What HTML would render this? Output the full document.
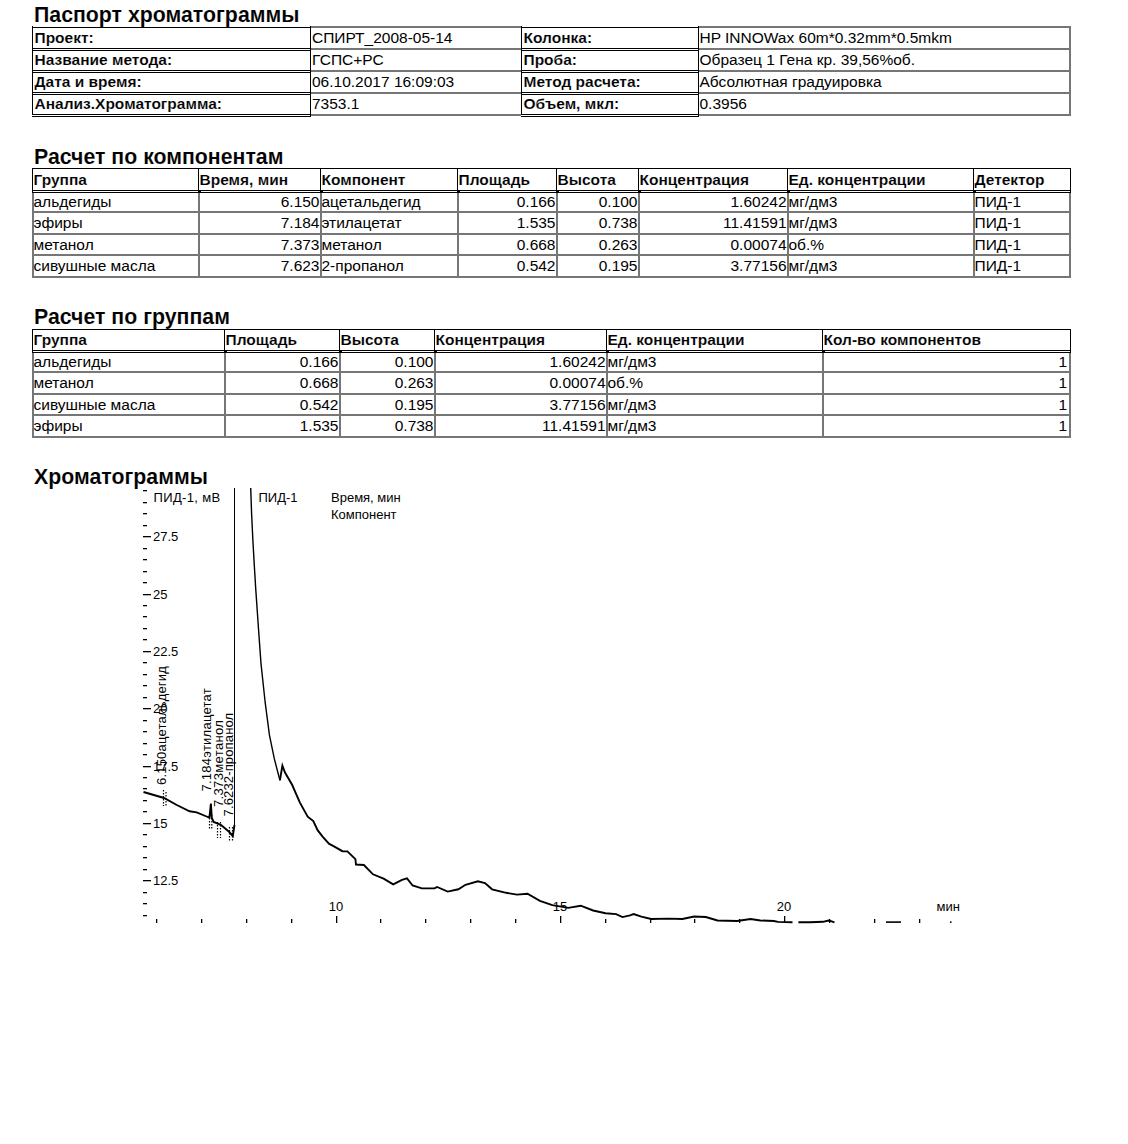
<!DOCTYPE html>
<html><head><meta charset="utf-8"><style>
html,body{margin:0;padding:0;background:#fff;}
body{width:1128px;height:1144px;position:relative;overflow:hidden;font-family:"Liberation Sans", sans-serif;color:#000;}
div{position:absolute;}
.t{position:absolute;white-space:nowrap;line-height:20px;height:20px;}
svg{position:absolute;left:0;top:0;}
svg text{font-family:"Liberation Sans", sans-serif;fill:#000;}
</style></head><body>
<span class="t" style="left:34px;top:4.62px;font-size:21.3px;font-weight:bold;-webkit-text-stroke:0.10px #fff;">Паспорт хроматограммы</span><span class="t" style="left:34px;top:146.62px;font-size:21.3px;font-weight:bold;-webkit-text-stroke:0.10px #fff;">Расчет по компонентам</span><span class="t" style="left:34px;top:306.62px;font-size:21.3px;font-weight:bold;-webkit-text-stroke:0.10px #fff;">Расчет по группам</span><span class="t" style="left:34px;top:466.62px;font-size:21.3px;font-weight:bold;-webkit-text-stroke:0.10px #fff;">Хроматограммы</span><div style="left:32px;top:27px;width:279px;height:1px;background:#000"></div><div style="left:32px;top:48px;width:279px;height:1px;background:#000"></div><div style="left:32px;top:50px;width:279px;height:1px;background:#000"></div><div style="left:32px;top:70px;width:279px;height:1px;background:#000"></div><div style="left:32px;top:72px;width:279px;height:1px;background:#000"></div><div style="left:32px;top:92px;width:279px;height:1px;background:#000"></div><div style="left:32px;top:94px;width:279px;height:1px;background:#000"></div><div style="left:32px;top:114px;width:279px;height:1px;background:#000"></div><div style="left:32px;top:116px;width:279px;height:1px;background:#000"></div><div style="left:32px;top:26px;width:1px;height:89px;background:#000"></div><div style="left:310px;top:26px;width:1px;height:91px;background:#000"></div><div style="left:521px;top:27px;width:178px;height:1px;background:#000"></div><div style="left:521px;top:48px;width:178px;height:1px;background:#000"></div><div style="left:521px;top:50px;width:178px;height:1px;background:#000"></div><div style="left:521px;top:70px;width:178px;height:1px;background:#000"></div><div style="left:521px;top:72px;width:178px;height:1px;background:#000"></div><div style="left:521px;top:92px;width:178px;height:1px;background:#000"></div><div style="left:521px;top:94px;width:178px;height:1px;background:#000"></div><div style="left:521px;top:114px;width:178px;height:1px;background:#000"></div><div style="left:521px;top:116px;width:178px;height:1px;background:#000"></div><div style="left:521px;top:26px;width:1px;height:89px;background:#000"></div><div style="left:698px;top:26px;width:1px;height:91px;background:#000"></div><div style="left:311px;top:26px;width:210px;height:2px;background:#767676"></div><div style="left:311px;top:48px;width:210px;height:2px;background:#767676"></div><div style="left:311px;top:70px;width:210px;height:2px;background:#767676"></div><div style="left:311px;top:92px;width:210px;height:2px;background:#767676"></div><div style="left:311px;top:114px;width:210px;height:2px;background:#767676"></div><div style="left:699px;top:26px;width:372px;height:2px;background:#767676"></div><div style="left:699px;top:48px;width:372px;height:2px;background:#767676"></div><div style="left:699px;top:70px;width:372px;height:2px;background:#767676"></div><div style="left:699px;top:92px;width:372px;height:2px;background:#767676"></div><div style="left:699px;top:114px;width:372px;height:2px;background:#767676"></div><div style="left:1069px;top:26px;width:2px;height:90px;background:#767676"></div><span class="t" style="left:34.5px;top:27.63px;font-size:15.5px;font-weight:bold;-webkit-text-stroke:0.12px #fff;">Проект:</span><span class="t" style="left:312px;top:27.63px;font-size:15.5px;font-weight:normal;">СПИРТ_2008-05-14</span><span class="t" style="left:523.5px;top:27.63px;font-size:15.5px;font-weight:bold;-webkit-text-stroke:0.12px #fff;">Колонка:</span><span class="t" style="left:699.5px;top:27.63px;font-size:15.5px;font-weight:normal;">HP INNOWax 60m*0.32mm*0.5mkm</span><span class="t" style="left:34.5px;top:49.63px;font-size:15.5px;font-weight:bold;-webkit-text-stroke:0.12px #fff;">Название метода:</span><span class="t" style="left:312px;top:49.63px;font-size:15.5px;font-weight:normal;">ГСПС+РС</span><span class="t" style="left:523.5px;top:49.63px;font-size:15.5px;font-weight:bold;-webkit-text-stroke:0.12px #fff;">Проба:</span><span class="t" style="left:699.5px;top:49.63px;font-size:15.5px;font-weight:normal;">Образец 1 Гена кр. 39,56%об.</span><span class="t" style="left:34.5px;top:71.63px;font-size:15.5px;font-weight:bold;-webkit-text-stroke:0.12px #fff;">Дата и время:</span><span class="t" style="left:312px;top:71.63px;font-size:15.5px;font-weight:normal;">06.10.2017 16:09:03</span><span class="t" style="left:523.5px;top:71.63px;font-size:15.5px;font-weight:bold;-webkit-text-stroke:0.12px #fff;">Метод расчета:</span><span class="t" style="left:699.5px;top:71.63px;font-size:15.5px;font-weight:normal;">Абсолютная градуировка</span><span class="t" style="left:34.5px;top:93.63px;font-size:15.5px;font-weight:bold;-webkit-text-stroke:0.12px #fff;">Анализ.Хроматограмма:</span><span class="t" style="left:312px;top:93.63px;font-size:15.5px;font-weight:normal;">7353.1</span><span class="t" style="left:523.5px;top:93.63px;font-size:15.5px;font-weight:bold;-webkit-text-stroke:0.12px #fff;">Объем, мкл:</span><span class="t" style="left:699.5px;top:93.63px;font-size:15.5px;font-weight:normal;">0.3956</span><div style="left:32px;top:168px;width:1039px;height:1px;background:#000"></div><div style="left:32px;top:190px;width:1039px;height:1px;background:#000"></div><div style="left:32px;top:192px;width:1039px;height:1px;background:#000"></div><div style="left:32px;top:168px;width:1px;height:25px;background:#000"></div><div style="left:198px;top:168px;width:1px;height:25px;background:#000"></div><div style="left:198px;top:190px;width:3px;height:3px;background:#000"></div><div style="left:320px;top:168px;width:1px;height:25px;background:#000"></div><div style="left:320px;top:190px;width:3px;height:3px;background:#000"></div><div style="left:457px;top:168px;width:1px;height:25px;background:#000"></div><div style="left:457px;top:190px;width:3px;height:3px;background:#000"></div><div style="left:556px;top:168px;width:1px;height:25px;background:#000"></div><div style="left:556px;top:190px;width:3px;height:3px;background:#000"></div><div style="left:638px;top:168px;width:1px;height:25px;background:#000"></div><div style="left:638px;top:190px;width:3px;height:3px;background:#000"></div><div style="left:787px;top:168px;width:1px;height:25px;background:#000"></div><div style="left:787px;top:190px;width:3px;height:3px;background:#000"></div><div style="left:973px;top:168px;width:1px;height:25px;background:#000"></div><div style="left:973px;top:190px;width:3px;height:3px;background:#000"></div><div style="left:1070px;top:168px;width:1px;height:25px;background:#000"></div><div style="left:32px;top:211px;width:1039px;height:2px;background:#767676"></div><div style="left:32px;top:233px;width:1039px;height:2px;background:#767676"></div><div style="left:32px;top:254px;width:1039px;height:2px;background:#767676"></div><div style="left:32px;top:276px;width:1039px;height:2px;background:#767676"></div><div style="left:32px;top:193px;width:2px;height:85px;background:#767676"></div><div style="left:198px;top:193px;width:2px;height:85px;background:#767676"></div><div style="left:320px;top:193px;width:2px;height:85px;background:#767676"></div><div style="left:457px;top:193px;width:2px;height:85px;background:#767676"></div><div style="left:556px;top:193px;width:2px;height:85px;background:#767676"></div><div style="left:638px;top:193px;width:2px;height:85px;background:#767676"></div><div style="left:787px;top:193px;width:2px;height:85px;background:#767676"></div><div style="left:973px;top:193px;width:2px;height:85px;background:#767676"></div><div style="left:1069px;top:193px;width:2px;height:85px;background:#767676"></div><span class="t" style="left:33.5px;top:169.63px;font-size:15.5px;font-weight:bold;-webkit-text-stroke:0.12px #fff;">Группа</span><span class="t" style="left:199.5px;top:169.63px;font-size:15.5px;font-weight:bold;-webkit-text-stroke:0.12px #fff;">Время, мин</span><span class="t" style="left:321.5px;top:169.63px;font-size:15.5px;font-weight:bold;-webkit-text-stroke:0.12px #fff;">Компонент</span><span class="t" style="left:458.5px;top:169.63px;font-size:15.5px;font-weight:bold;-webkit-text-stroke:0.12px #fff;">Площадь</span><span class="t" style="left:557.5px;top:169.63px;font-size:15.5px;font-weight:bold;-webkit-text-stroke:0.12px #fff;">Высота</span><span class="t" style="left:639.5px;top:169.63px;font-size:15.5px;font-weight:bold;-webkit-text-stroke:0.12px #fff;">Концентрация</span><span class="t" style="left:788.5px;top:169.63px;font-size:15.5px;font-weight:bold;-webkit-text-stroke:0.12px #fff;">Ед. концентрации</span><span class="t" style="left:974.5px;top:169.63px;font-size:15.5px;font-weight:bold;-webkit-text-stroke:0.12px #fff;">Детектор</span><span class="t" style="left:33.5px;top:191.63px;font-size:15.5px;font-weight:normal;">альдегиды</span><span class="t" style="left:-80.5px;width:400px;text-align:right;top:191.63px;font-size:15.5px;font-weight:normal;">6.150</span><span class="t" style="left:321.5px;top:191.63px;font-size:15.5px;font-weight:normal;">ацетальдегид</span><span class="t" style="left:155.5px;width:400px;text-align:right;top:191.63px;font-size:15.5px;font-weight:normal;">0.166</span><span class="t" style="left:237.5px;width:400px;text-align:right;top:191.63px;font-size:15.5px;font-weight:normal;">0.100</span><span class="t" style="left:386.5px;width:400px;text-align:right;top:191.63px;font-size:15.5px;font-weight:normal;">1.60242</span><span class="t" style="left:788.5px;top:191.63px;font-size:15.5px;font-weight:normal;">мг/дм3</span><span class="t" style="left:974.5px;top:191.63px;font-size:15.5px;font-weight:normal;">ПИД-1</span><span class="t" style="left:33.5px;top:212.63px;font-size:15.5px;font-weight:normal;">эфиры</span><span class="t" style="left:-80.5px;width:400px;text-align:right;top:212.63px;font-size:15.5px;font-weight:normal;">7.184</span><span class="t" style="left:321.5px;top:212.63px;font-size:15.5px;font-weight:normal;">этилацетат</span><span class="t" style="left:155.5px;width:400px;text-align:right;top:212.63px;font-size:15.5px;font-weight:normal;">1.535</span><span class="t" style="left:237.5px;width:400px;text-align:right;top:212.63px;font-size:15.5px;font-weight:normal;">0.738</span><span class="t" style="left:386.5px;width:400px;text-align:right;top:212.63px;font-size:15.5px;font-weight:normal;">11.41591</span><span class="t" style="left:788.5px;top:212.63px;font-size:15.5px;font-weight:normal;">мг/дм3</span><span class="t" style="left:974.5px;top:212.63px;font-size:15.5px;font-weight:normal;">ПИД-1</span><span class="t" style="left:33.5px;top:234.63px;font-size:15.5px;font-weight:normal;">метанол</span><span class="t" style="left:-80.5px;width:400px;text-align:right;top:234.63px;font-size:15.5px;font-weight:normal;">7.373</span><span class="t" style="left:321.5px;top:234.63px;font-size:15.5px;font-weight:normal;">метанол</span><span class="t" style="left:155.5px;width:400px;text-align:right;top:234.63px;font-size:15.5px;font-weight:normal;">0.668</span><span class="t" style="left:237.5px;width:400px;text-align:right;top:234.63px;font-size:15.5px;font-weight:normal;">0.263</span><span class="t" style="left:386.5px;width:400px;text-align:right;top:234.63px;font-size:15.5px;font-weight:normal;">0.00074</span><span class="t" style="left:788.5px;top:234.63px;font-size:15.5px;font-weight:normal;">об.%</span><span class="t" style="left:974.5px;top:234.63px;font-size:15.5px;font-weight:normal;">ПИД-1</span><span class="t" style="left:33.5px;top:255.63px;font-size:15.5px;font-weight:normal;">сивушные масла</span><span class="t" style="left:-80.5px;width:400px;text-align:right;top:255.63px;font-size:15.5px;font-weight:normal;">7.623</span><span class="t" style="left:321.5px;top:255.63px;font-size:15.5px;font-weight:normal;">2-пропанол</span><span class="t" style="left:155.5px;width:400px;text-align:right;top:255.63px;font-size:15.5px;font-weight:normal;">0.542</span><span class="t" style="left:237.5px;width:400px;text-align:right;top:255.63px;font-size:15.5px;font-weight:normal;">0.195</span><span class="t" style="left:386.5px;width:400px;text-align:right;top:255.63px;font-size:15.5px;font-weight:normal;">3.77156</span><span class="t" style="left:788.5px;top:255.63px;font-size:15.5px;font-weight:normal;">мг/дм3</span><span class="t" style="left:974.5px;top:255.63px;font-size:15.5px;font-weight:normal;">ПИД-1</span><div style="left:32px;top:329px;width:1039px;height:1px;background:#000"></div><div style="left:32px;top:350px;width:1039px;height:1px;background:#000"></div><div style="left:32px;top:352px;width:1039px;height:1px;background:#000"></div><div style="left:32px;top:329px;width:1px;height:24px;background:#000"></div><div style="left:224px;top:329px;width:1px;height:24px;background:#000"></div><div style="left:224px;top:350px;width:3px;height:3px;background:#000"></div><div style="left:339px;top:329px;width:1px;height:24px;background:#000"></div><div style="left:339px;top:350px;width:3px;height:3px;background:#000"></div><div style="left:434px;top:329px;width:1px;height:24px;background:#000"></div><div style="left:434px;top:350px;width:3px;height:3px;background:#000"></div><div style="left:606px;top:329px;width:1px;height:24px;background:#000"></div><div style="left:606px;top:350px;width:3px;height:3px;background:#000"></div><div style="left:822px;top:329px;width:1px;height:24px;background:#000"></div><div style="left:822px;top:350px;width:3px;height:3px;background:#000"></div><div style="left:1070px;top:329px;width:1px;height:24px;background:#000"></div><div style="left:32px;top:371px;width:1039px;height:2px;background:#767676"></div><div style="left:32px;top:393px;width:1039px;height:2px;background:#767676"></div><div style="left:32px;top:414px;width:1039px;height:2px;background:#767676"></div><div style="left:32px;top:436px;width:1039px;height:2px;background:#767676"></div><div style="left:32px;top:353px;width:2px;height:85px;background:#767676"></div><div style="left:224px;top:353px;width:2px;height:85px;background:#767676"></div><div style="left:339px;top:353px;width:2px;height:85px;background:#767676"></div><div style="left:434px;top:353px;width:2px;height:85px;background:#767676"></div><div style="left:606px;top:353px;width:2px;height:85px;background:#767676"></div><div style="left:822px;top:353px;width:2px;height:85px;background:#767676"></div><div style="left:1069px;top:353px;width:2px;height:85px;background:#767676"></div><span class="t" style="left:33.5px;top:329.63px;font-size:15.5px;font-weight:bold;-webkit-text-stroke:0.12px #fff;">Группа</span><span class="t" style="left:225.5px;top:329.63px;font-size:15.5px;font-weight:bold;-webkit-text-stroke:0.12px #fff;">Площадь</span><span class="t" style="left:340.5px;top:329.63px;font-size:15.5px;font-weight:bold;-webkit-text-stroke:0.12px #fff;">Высота</span><span class="t" style="left:435.5px;top:329.63px;font-size:15.5px;font-weight:bold;-webkit-text-stroke:0.12px #fff;">Концентрация</span><span class="t" style="left:607.5px;top:329.63px;font-size:15.5px;font-weight:bold;-webkit-text-stroke:0.12px #fff;">Ед. концентрации</span><span class="t" style="left:823.5px;top:329.63px;font-size:15.5px;font-weight:bold;-webkit-text-stroke:0.12px #fff;">Кол-во компонентов</span><span class="t" style="left:33.5px;top:351.63px;font-size:15.5px;font-weight:normal;">альдегиды</span><span class="t" style="left:-61.5px;width:400px;text-align:right;top:351.63px;font-size:15.5px;font-weight:normal;">0.166</span><span class="t" style="left:33.5px;width:400px;text-align:right;top:351.63px;font-size:15.5px;font-weight:normal;">0.100</span><span class="t" style="left:205.5px;width:400px;text-align:right;top:351.63px;font-size:15.5px;font-weight:normal;">1.60242</span><span class="t" style="left:607.5px;top:351.63px;font-size:15.5px;font-weight:normal;">мг/дм3</span><span class="t" style="left:667px;width:400px;text-align:right;top:351.63px;font-size:15.5px;font-weight:normal;">1</span><span class="t" style="left:33.5px;top:372.63px;font-size:15.5px;font-weight:normal;">метанол</span><span class="t" style="left:-61.5px;width:400px;text-align:right;top:372.63px;font-size:15.5px;font-weight:normal;">0.668</span><span class="t" style="left:33.5px;width:400px;text-align:right;top:372.63px;font-size:15.5px;font-weight:normal;">0.263</span><span class="t" style="left:205.5px;width:400px;text-align:right;top:372.63px;font-size:15.5px;font-weight:normal;">0.00074</span><span class="t" style="left:607.5px;top:372.63px;font-size:15.5px;font-weight:normal;">об.%</span><span class="t" style="left:667px;width:400px;text-align:right;top:372.63px;font-size:15.5px;font-weight:normal;">1</span><span class="t" style="left:33.5px;top:394.63px;font-size:15.5px;font-weight:normal;">сивушные масла</span><span class="t" style="left:-61.5px;width:400px;text-align:right;top:394.63px;font-size:15.5px;font-weight:normal;">0.542</span><span class="t" style="left:33.5px;width:400px;text-align:right;top:394.63px;font-size:15.5px;font-weight:normal;">0.195</span><span class="t" style="left:205.5px;width:400px;text-align:right;top:394.63px;font-size:15.5px;font-weight:normal;">3.77156</span><span class="t" style="left:607.5px;top:394.63px;font-size:15.5px;font-weight:normal;">мг/дм3</span><span class="t" style="left:667px;width:400px;text-align:right;top:394.63px;font-size:15.5px;font-weight:normal;">1</span><span class="t" style="left:33.5px;top:415.63px;font-size:15.5px;font-weight:normal;">эфиры</span><span class="t" style="left:-61.5px;width:400px;text-align:right;top:415.63px;font-size:15.5px;font-weight:normal;">1.535</span><span class="t" style="left:33.5px;width:400px;text-align:right;top:415.63px;font-size:15.5px;font-weight:normal;">0.738</span><span class="t" style="left:205.5px;width:400px;text-align:right;top:415.63px;font-size:15.5px;font-weight:normal;">11.41591</span><span class="t" style="left:607.5px;top:415.63px;font-size:15.5px;font-weight:normal;">мг/дм3</span><span class="t" style="left:667px;width:400px;text-align:right;top:415.63px;font-size:15.5px;font-weight:normal;">1</span>
<svg width="1128" height="1144" viewBox="0 0 1128 1144">
<rect x="143" y="490" width="4" height="1.3" fill="#000"/><rect x="143" y="502" width="4" height="1.3" fill="#000"/><rect x="143" y="513" width="4" height="1.3" fill="#000"/><rect x="143" y="525" width="4" height="1.3" fill="#000"/><rect x="143" y="536" width="8" height="1.3" fill="#000"/><text x="153" y="540.5" font-size="13">27.5</text><rect x="143" y="548" width="4" height="1.3" fill="#000"/><rect x="143" y="559" width="4" height="1.3" fill="#000"/><rect x="143" y="571" width="4" height="1.3" fill="#000"/><rect x="143" y="582" width="4" height="1.3" fill="#000"/><rect x="143" y="594" width="8" height="1.3" fill="#000"/><text x="153" y="598.5" font-size="13">25</text><rect x="143" y="605" width="4" height="1.3" fill="#000"/><rect x="143" y="616" width="4" height="1.3" fill="#000"/><rect x="143" y="628" width="4" height="1.3" fill="#000"/><rect x="143" y="639" width="4" height="1.3" fill="#000"/><rect x="143" y="651" width="8" height="1.3" fill="#000"/><text x="153" y="655.5" font-size="13">22.5</text><rect x="143" y="662" width="4" height="1.3" fill="#000"/><rect x="143" y="674" width="4" height="1.3" fill="#000"/><rect x="143" y="685" width="4" height="1.3" fill="#000"/><rect x="143" y="697" width="4" height="1.3" fill="#000"/><rect x="143" y="708" width="8" height="1.3" fill="#000"/><text x="153" y="712.5" font-size="13">20</text><rect x="143" y="720" width="4" height="1.3" fill="#000"/><rect x="143" y="731" width="4" height="1.3" fill="#000"/><rect x="143" y="743" width="4" height="1.3" fill="#000"/><rect x="143" y="754" width="4" height="1.3" fill="#000"/><rect x="143" y="766" width="8" height="1.3" fill="#000"/><text x="153" y="770.5" font-size="13">17.5</text><rect x="143" y="777" width="4" height="1.3" fill="#000"/><rect x="143" y="788" width="4" height="1.3" fill="#000"/><rect x="143" y="800" width="4" height="1.3" fill="#000"/><rect x="143" y="811" width="4" height="1.3" fill="#000"/><rect x="143" y="823" width="8" height="1.3" fill="#000"/><text x="153" y="827.5" font-size="13">15</text><rect x="143" y="834" width="4" height="1.3" fill="#000"/><rect x="143" y="846" width="4" height="1.3" fill="#000"/><rect x="143" y="857" width="4" height="1.3" fill="#000"/><rect x="143" y="869" width="4" height="1.3" fill="#000"/><rect x="143" y="880" width="8" height="1.3" fill="#000"/><text x="153" y="884.5" font-size="13">12.5</text><rect x="143" y="892" width="4" height="1.3" fill="#000"/><rect x="143" y="903" width="4" height="1.3" fill="#000"/><rect x="143" y="915" width="4" height="1.3" fill="#000"/><rect x="156" y="919" width="1.3" height="4" fill="#000"/><rect x="201" y="919" width="1.3" height="4" fill="#000"/><rect x="246" y="919" width="1.3" height="4" fill="#000"/><rect x="291" y="919" width="1.3" height="4" fill="#000"/><rect x="336" y="916" width="1.3" height="7" fill="#000"/><text x="336" y="910.5" font-size="13" text-anchor="middle">10</text><rect x="380" y="919" width="1.3" height="4" fill="#000"/><rect x="425" y="919" width="1.3" height="4" fill="#000"/><rect x="470" y="919" width="1.3" height="4" fill="#000"/><rect x="515" y="919" width="1.3" height="4" fill="#000"/><rect x="560" y="916" width="1.3" height="7" fill="#000"/><text x="560" y="910.5" font-size="13" text-anchor="middle">15</text><rect x="605" y="919" width="1.3" height="4" fill="#000"/><rect x="650" y="919" width="1.3" height="4" fill="#000"/><rect x="694" y="919" width="1.3" height="4" fill="#000"/><rect x="739" y="919" width="1.3" height="4" fill="#000"/><rect x="784" y="916" width="1.3" height="7" fill="#000"/><text x="784" y="910.5" font-size="13" text-anchor="middle">20</text><rect x="829" y="919" width="1.3" height="4" fill="#000"/><rect x="874" y="919" width="1.3" height="4" fill="#000"/><rect x="919" y="919" width="1.3" height="4" fill="#000"/><text x="936.5" y="910.5" font-size="13" >мин</text><text x="153.5" y="501.5" font-size="13" letter-spacing="0.35">ПИД-1, мВ</text><text x="258.5" y="501.5" font-size="13">ПИД-1</text><text x="331" y="502" font-size="13">Время, мин</text><text x="331" y="518.5" font-size="13">Компонент</text><polyline points="143.5,792.0 164.0,798.0 176.8,805.0 189.6,811.3 196.7,812.3 206.6,816.5 209.4,817.7 210.9,803.5 211.8,818.0 213.7,822.0 220.8,824.8 229.3,832.0 232.8,836.0 234.5,825.0" fill="none" stroke="#000" stroke-width="1.9" stroke-linejoin="miter"/><rect x="234" y="488" width="1" height="337" fill="#000"/><polyline points="250.7,488.0 251.6,513.6 252.9,540.8 254.3,565.3 255.7,588.4 257.3,611.5 258.6,630.3 261.0,663.6 265.2,702.7 269.4,734.9 274.3,758.7 279.9,780.3" fill="none" stroke="#000" stroke-width="1.4" stroke-linejoin="miter"/><polyline points="279.9,780.3 282.4,765.7 285.0,772.5 292.1,784.8 299.9,802.6 307.7,816.7 313.3,821.0 317.6,830.2 322.6,836.6 328.9,843.7 335.3,847.2 342.4,851.2 347.4,851.4 355.4,859.1 356.0,864.5 363.9,865.0 373.0,874.3 383.6,878.6 393.2,884.4 402.0,879.9 407.0,878.4 412.6,885.5 421.8,888.4 434.6,888.4 437.1,887.0 447.7,891.6 458.4,889.3 465.5,884.8 477.9,881.3 485.0,883.0 492.1,889.3 506.2,892.8 516.9,894.6 527.5,893.7 539.9,900.8 552.3,905.2 568.3,907.9 580.7,905.7 593.1,910.5 605.5,913.2 616.2,914.1 622.4,917.1 630.0,915.3 633.6,914.1 641.4,916.6 651.2,919.0 668.7,918.6 682.4,919.0 694.1,916.5 705.8,917.0 717.5,920.5 737.0,921.0 750.6,919.0 760.4,920.5 774.0,921.0 777.9,921.9 792.5,922.3" fill="none" stroke="#000" stroke-width="1.9" stroke-linejoin="miter"/><polyline points="798.4,922.3 810.0,922.3 823.0,921.8 828.5,920.5 831.0,921.2 834.5,922.3" fill="none" stroke="#000" stroke-width="1.9" stroke-linejoin="miter"/><rect x="886" y="921.3" width="15" height="1.6" fill="#000"/><rect x="950" y="921.3" width="1.5" height="1.6" fill="#000"/><line x1="163.5" y1="790" x2="163.5" y2="806" stroke="#000" stroke-width="1.2" stroke-dasharray="1.5,1.5"/><line x1="166" y1="792" x2="166" y2="806" stroke="#000" stroke-width="1.2" stroke-dasharray="1.5,1.5"/><line x1="209.5" y1="815" x2="209.5" y2="829" stroke="#000" stroke-width="1.2" stroke-dasharray="1.5,1.5"/><line x1="211.8" y1="815" x2="211.8" y2="829" stroke="#000" stroke-width="1.2" stroke-dasharray="1.5,1.5"/><line x1="217.5" y1="822" x2="217.5" y2="838" stroke="#000" stroke-width="1.2" stroke-dasharray="1.5,1.5"/><line x1="220.5" y1="822" x2="220.5" y2="838" stroke="#000" stroke-width="1.2" stroke-dasharray="1.5,1.5"/><line x1="229.5" y1="827" x2="229.5" y2="842" stroke="#000" stroke-width="1.2" stroke-dasharray="1.5,1.5"/><line x1="232.5" y1="827" x2="232.5" y2="842" stroke="#000" stroke-width="1.2" stroke-dasharray="1.5,1.5"/><text transform="translate(166.0,785) rotate(-90)" font-size="13" letter-spacing="0.2">6.150ацетальдегид</text><text transform="translate(210.8,791.5) rotate(-90)" font-size="13" letter-spacing="0.25">7.184этилацетат</text><text transform="translate(222.8,807) rotate(-90)" font-size="13" letter-spacing="0.35">7.373метанол</text><text transform="translate(232.5,816.5) rotate(-90)" font-size="13" letter-spacing="0.15">7.6232-пропанол</text>
</svg>
</body></html>
